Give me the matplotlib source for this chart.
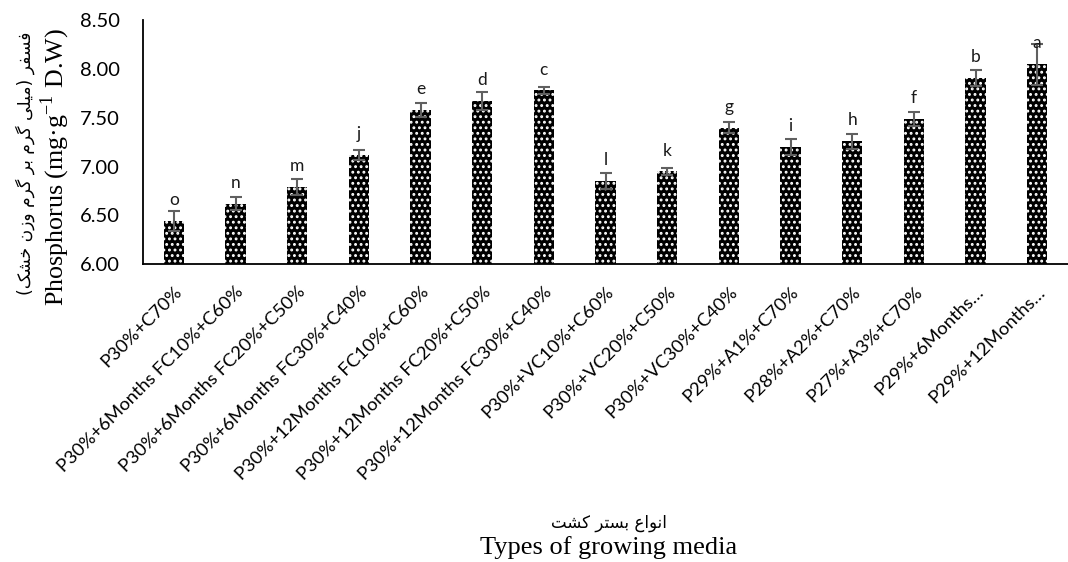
import numpy as np
import matplotlib.pyplot as plt

plt.rcParams['mathtext.fontset'] = 'custom'
plt.rcParams['mathtext.rm'] = 'Liberation Serif'
plt.rcParams['hatch.linewidth'] = 1.3

# تیمارها و مقادیر فسفر
treatments = ['P30%+C70%', 'P30%+6Months FC10%+C60%', 'P30%+6Months FC20%+C50%',
              'P30%+6Months FC30%+C40%', 'P30%+12Months FC10%+C60%',
              'P30%+12Months FC20%+C50%', 'P30%+12Months FC30%+C40%',
              'P30%+VC10%+C60%', 'P30%+VC20%+C50%', 'P30%+VC30%+C40%',
              'P29%+A1%+C70%', 'P28%+A2%+C70%', 'P27%+A3%+C70%',
              'P29%+6Months…', 'P29%+12Months…']
phosphorus = [6.44, 6.62, 6.79, 7.12, 7.58, 7.67, 7.78, 6.85, 6.95, 7.40,
              7.20, 7.26, 7.49, 7.91, 8.05]
errors = [0.10, 0.065, 0.08, 0.055, 0.07, 0.09, 0.035, 0.08, 0.04, 0.06,
          0.085, 0.075, 0.07, 0.08, 0.21]
letters = ['o', 'n', 'm', 'j', 'e', 'd', 'c', 'l', 'k', 'g', 'i', 'h', 'f', 'b', 'a']

# فرم‌های نمایشی حروف فارسی: جدا، پایانی، آغازی، میانی
FORMS = {
    'ا': ('\uFE8D', '\uFE8E', None, None),
    'ب': ('\uFE8F', '\uFE90', '\uFE91', '\uFE92'),
    'ت': ('\uFE95', '\uFE96', '\uFE97', '\uFE98'),
    'خ': ('\uFEA5', '\uFEA6', '\uFEA7', '\uFEA8'),
    'ر': ('\uFEAD', '\uFEAE', None, None),
    'ز': ('\uFEAF', '\uFEB0', None, None),
    'س': ('\uFEB1', '\uFEB2', '\uFEB3', '\uFEB4'),
    'ش': ('\uFEB5', '\uFEB6', '\uFEB7', '\uFEB8'),
    'ع': ('\uFEC9', '\uFECA', '\uFECB', '\uFECC'),
    'ف': ('\uFED1', '\uFED2', '\uFED3', '\uFED4'),
    'ل': ('\uFEDD', '\uFEDE', '\uFEDF', '\uFEE0'),
    'م': ('\uFEE1', '\uFEE2', '\uFEE3', '\uFEE4'),
    'ن': ('\uFEE5', '\uFEE6', '\uFEE7', '\uFEE8'),
    'و': ('\uFEED', '\uFEEE', None, None),
    'ک': ('\uFB8E', '\uFB8F', '\uFB90', '\uFB91'),
    'گ': ('\uFB92', '\uFB93', '\uFB94', '\uFB95'),
    'ی': ('\uFBFC', '\uFBFD', '\uFBFE', '\uFBFF'),
}


def fa(s):
    # اتصال حروف و برگرداندن ترتیب برای نمایش راست به چپ
    out = []
    for i, ch in enumerate(s):
        f = FORMS.get(ch)
        if f is None:
            out.append(ch)
            continue
        prev = s[i - 1] if i > 0 else ''
        nxt = s[i + 1] if i + 1 < len(s) else ''
        join_prev = prev in FORMS and FORMS[prev][2] is not None
        join_next = f[2] is not None and nxt in FORMS
        idx = 3 if (join_prev and join_next) else 1 if join_prev else 2 if join_next else 0
        out.append(f[idx])
    mirror = {'(': ')', ')': '('}
    return ''.join(mirror.get(c, c) for c in reversed(out))


fig = plt.figure(figsize=(10.68, 5.62), dpi=100)
ax = fig.add_axes([0.134, 0.530, 0.866, 0.434])

x = np.arange(len(treatments))
ax.bar(x, phosphorus, width=0.33, color='black', edgecolor='white',
       linewidth=0, hatch='...')
ax.errorbar(x, phosphorus, yerr=errors, fmt='none', ecolor='#606060',
            elinewidth=1.5, capsize=4.3, capthick=1.5)

for xi, v, lab in zip(x, phosphorus, letters):
    ax.annotate(lab, (xi, v), xytext=(0, 15), textcoords='offset points',
                ha='center', va='center', fontsize=12.5, family='Lato', color='#1a1a1a')

ax.set_xlim(-0.5, len(treatments) - 0.5)
ax.set_ylim(6.0, 8.5)
ax.set_yticks(np.arange(6.0, 8.51, 0.5))
ax.set_yticklabels([f'{t:.2f}' for t in np.arange(6.0, 8.51, 0.5)],
                   family='Lato', fontsize=14.5)
ax.set_xticks(x)
ax.set_xticklabels(treatments, rotation=45, ha='right', rotation_mode='anchor',
                   family='Lato', fontsize=13.3)
ax.tick_params(axis='y', length=0, pad=17)
ax.tick_params(axis='x', length=0, pad=14)
for s in ['top', 'right']:
    ax.spines[s].set_visible(False)
for s in ['left', 'bottom']:
    ax.spines[s].set_linewidth(1.3)

# عنوان محورها به فارسی و انگلیسی
fig.text(0.0235, 1 - 163 / 562, fa('فسفر (میلی گرم بر گرم وزن خشک)'),
         rotation=90, ha='center', va='center', fontsize=12.3, family='DejaVu Sans')
fig.text(0.0515, 1 - 167 / 562, r'Phosphorus (mg·g$^{-1}$ D.W)',
         rotation=90, ha='center', va='center', fontsize=18.7, family='Liberation Serif')
fig.text(0.57, 1 - 523 / 562, fa('انواع بستر کشت'),
         ha='center', va='center', fontsize=12, family='DejaVu Sans')
fig.text(0.57, 1 - 548 / 562, 'Types of growing media',
         ha='center', va='center', fontsize=19, family='Liberation Serif')

fig.savefig('out.png', dpi=100)
